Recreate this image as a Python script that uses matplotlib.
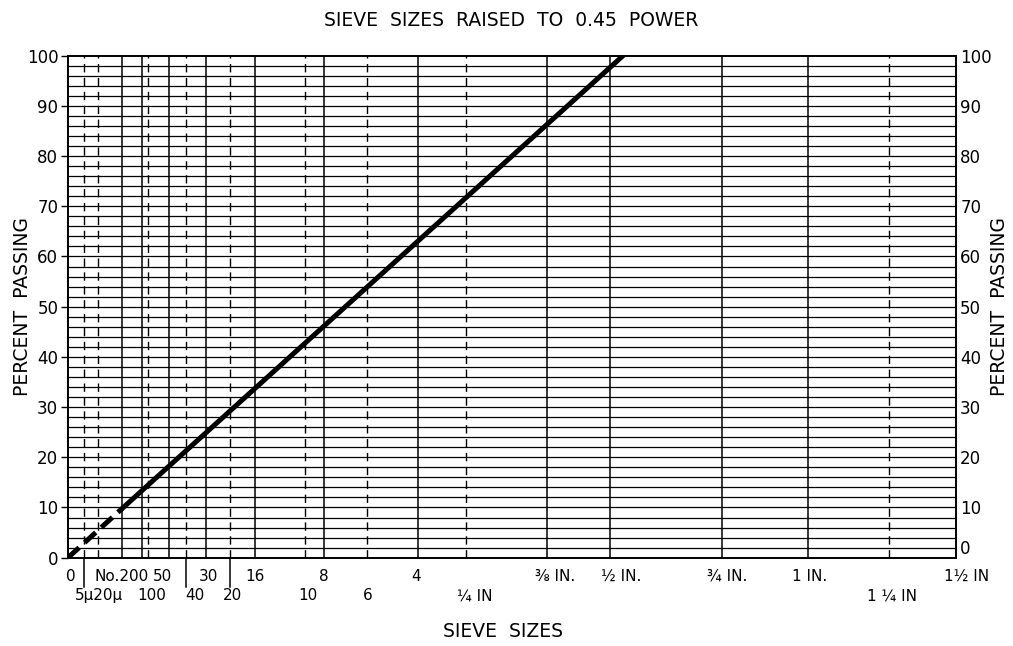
import numpy as np
import matplotlib.pyplot as plt
from matplotlib import transforms

# sieve openings (mm) drawn as grid lines
solid_sieves = [0.075, 0.15, 0.3, 0.6, 1.18, 2.36, 4.75, 9.5, 12.5, 19.0, 25.0]
dashed_sieves = [0.005, 0.02, 0.18, 0.425, 0.85, 2.0, 3.35, 6.3, 31.5]
max_size = 37.5

# maximum density line (size mm, percent passing)
dash_size = [0, 0.075]
dash_pct = [0, 9.8]
solid_size = [0.075, 13.2]
solid_pct = [9.8, 100]

# labels under the axis: size, text, row, x shift in px
sieve_labels = [
    (0, "0", 1, 3),
    (0.075, "No.200", 1, -1),
    (0.3, "50", 1, -7),
    (0.6, "30", 1, 2),
    (1.18, "16", 1, 0),
    (2.36, "8", 1, 0),
    (4.75, "4", 1, -2),
    (9.5, "⅜ IN.", 1, 8),
    (12.5, "½ IN.", 1, 12),
    (19.0, "¾ IN.", 1, 5),
    (25.0, "1 IN.", 1, 2),
    (37.5, "1½ IN", 1, 11),
    (0.02, "5μ20μ", 2, 1),
    (0.15, "100", 2, 10),
    (0.425, "40", 2, 9),
    (0.85, "20", 2, 3),
    (2.0, "10", 2, 3),
    (3.35, "6", 2, 0),
    (6.3, "¼ IN", 2, 9),
    (31.5, "1 ¼ IN", 2, 3),
]
long_ticks = [0.005, 0.425, 0.85]

pct_ticks = list(range(0, 101, 10))

fig = plt.figure(figsize=(10.13, 6.46), dpi=100)
ax = fig.add_axes([0.0671, 0.1367, 0.8766, 0.7771])

fwd = lambda x: np.power(np.clip(x, 0, None), 0.45)
inv = lambda y: np.power(np.clip(y, 0, None), 1 / 0.45)
ax.set_xscale('function', functions=(fwd, inv))
ax.set_xlim(0, max_size)
ax.set_ylim(0, 100)

for y in np.arange(2, 100, 2):
    ax.axhline(y, color='black', lw=0.9, zorder=1)
for s in solid_sieves:
    ax.axvline(s, color='black', lw=1.1, zorder=1)
for s in dashed_sieves:
    ax.axvline(s, color='black', lw=1.0, ls=(0, (6, 4)), zorder=1)

ax.plot(dash_size, dash_pct, color='black', lw=3.6, ls=(0, (3, 1.5)),
        solid_capstyle='butt', zorder=3)
ax.plot(solid_size, solid_pct, color='black', lw=3.6, zorder=3)

for sp in ax.spines.values():
    sp.set_linewidth(1.4)

ax.set_xticks([])
ax.set_yticks(pct_ticks)
ax.tick_params(axis='y', direction='out', length=5, width=1, labelsize=12, pad=2)

ax2 = ax.twinx()
ax2.set_ylim(0, 100)
ax2.set_yticks(pct_ticks)
ax2.tick_params(axis='y', direction='out', length=0, labelsize=12, pad=3)
for sp in ax2.spines.values():
    sp.set_visible(False)
ax2.get_yticklabels()[0].set_va('bottom')

trans = transforms.blended_transform_factory(ax.transData, ax.transAxes)
for s in long_ticks:
    ax.plot([s, s], [0, -0.058], color='black', lw=1.1, transform=trans, clip_on=False)

for s, txt, row, dx in sieve_labels:
    y = -0.037 if row == 1 else -0.076
    t = transforms.offset_copy(trans, fig=fig, x=dx * 0.72, y=0, units='points')
    ax.text(s, y, txt, transform=t, ha='center', va='center', fontsize=11)

fig.text(0.505, 0.969, "SIEVE  SIZES  RAISED  TO  0.45  POWER",
         ha='center', va='center', fontsize=13.5)
fig.text(0.497, 0.022, "SIEVE  SIZES", ha='center', va='center', fontsize=13.5)
fig.text(0.022, 0.525, "PERCENT  PASSING", rotation=90, ha='center', va='center', fontsize=13.5)
fig.text(0.987, 0.525, "PERCENT  PASSING", rotation=90, ha='center', va='center', fontsize=13.5)

fig.savefig('out.png', dpi=100)
